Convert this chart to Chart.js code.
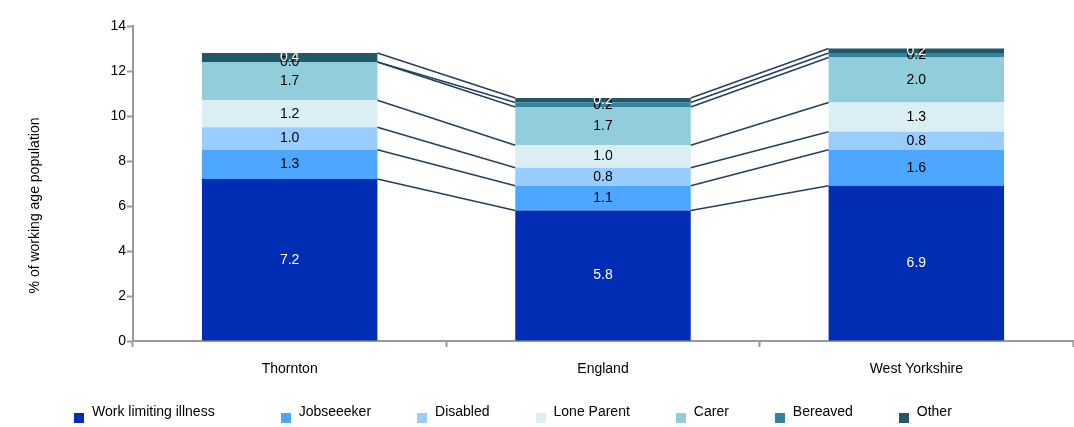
<!DOCTYPE html>
<html lang="en">
<head>
    <meta charset="UTF-8">
    <title>Benefit claimants by type</title>
    <style>
        body {
            margin: 0;
            background-color: #ffffff;
            font-family: "Liberation Sans", Arial, sans-serif;
        }

        .chart-container {
            position: relative;
            width: 1074px;
            height: 427px;
        }

        #legend {
            position: absolute;
            left: 74px;
            top: 403px;
            display: flex;
            gap: 46px;
            font-size: 14px;
            color: #000;
            line-height: 16px;
        }

        #legend .item {
            display: flex;
            align-items: flex-start;
            white-space: nowrap;
        }

        #legend .item:first-child {
            margin-right: 20px;
        }

        #legend .box {
            width: 10px;
            height: 10px;
            margin-top: 10px;
            margin-right: 8px;
        }
    </style>
</head>
<body>

<div class="chart-container">
    <canvas id="benefitChart" width="1074" height="427"></canvas>
    <div id="legend"></div>
</div>

<script src="https://cdn.jsdelivr.net/npm/chart.js"></script>
<script>
    // Areas on the x axis
    const areas = ['Thornton', 'England', 'West Yorkshire'];

    // % of working age population claiming each benefit type
    const workLimitingIllness = [7.2, 5.8, 6.9];
    const jobseeker = [1.3, 1.1, 1.6];
    const disabled = [1.0, 0.8, 0.8];
    const loneParent = [1.2, 1.0, 1.3];
    const carer = [1.7, 1.7, 2.0];
    const bereaved = [0.0, 0.2, 0.2];
    const other = [0.4, 0.2, 0.2];

    const yTicks = [0, 2, 4, 6, 8, 10, 12, 14];
    const yTitle = '% of working age population';

    const series = [
        {label: 'Work limiting illness', data: workLimitingIllness, color: '#002db3', text: '#ffffff'},
        {label: 'Jobseeeker', data: jobseeker, color: '#4da6ff', text: '#000000'},
        {label: 'Disabled', data: disabled, color: '#99ccff', text: '#000000'},
        {label: 'Lone Parent', data: loneParent, color: '#dbeef4', text: '#000000'},
        {label: 'Carer', data: carer, color: '#92cddc', text: '#000000'},
        {label: 'Bereaved', data: bereaved, color: '#31849b', text: '#000000'},
        {label: 'Other', data: other, color: '#215968', text: '#ffffff'}
    ];

    const fontFamily = '"Liberation Sans", Arial, sans-serif';

    // Lines joining the top of each segment from one bar to the next
    const connectorLines = {
        id: 'connectorLines',
        afterDatasetsDraw(chart) {
            const ctx = chart.ctx;
            ctx.save();
            ctx.strokeStyle = '#243f60';
            ctx.lineWidth = 1.5;
            chart.data.datasets.forEach((ds, i) => {
                const bars = chart.getDatasetMeta(i).data;
                for (let j = 0; j < bars.length - 1; j++) {
                    const a = bars[j], b = bars[j + 1];
                    ctx.beginPath();
                    ctx.moveTo(a.x + a.width / 2, a.y);
                    ctx.lineTo(b.x - b.width / 2, b.y);
                    ctx.stroke();
                }
            });
            ctx.restore();
        }
    };

    // Value labels in the middle of each segment
    const segmentLabels = {
        id: 'segmentLabels',
        afterDatasetsDraw(chart) {
            const ctx = chart.ctx;
            ctx.save();
            ctx.font = '14px ' + fontFamily;
            ctx.textAlign = 'center';
            ctx.textBaseline = 'middle';
            chart.data.datasets.forEach((ds, i) => {
                chart.getDatasetMeta(i).data.forEach((bar, j) => {
                    ctx.fillStyle = series[i].text;
                    ctx.fillText(ds.data[j].toFixed(1), bar.x, (bar.y + bar.base) / 2);
                });
            });
            ctx.restore();
        }
    };

    // Rotated y axis title, sitting a little below the middle of the plot
    const axisTitle = {
        id: 'axisTitle',
        afterDraw(chart) {
            const ctx = chart.ctx;
            const y = chart.scales.y;
            ctx.save();
            ctx.translate(35, (y.top + y.bottom) / 2 + 22);
            ctx.rotate(-Math.PI / 2);
            ctx.font = '14px ' + fontFamily;
            ctx.fillStyle = '#000000';
            ctx.textAlign = 'center';
            ctx.textBaseline = 'middle';
            ctx.fillText(yTitle, 0, 0);
            ctx.restore();
        }
    };

    const config = {
        type: 'bar',
        data: {
            labels: areas,
            datasets: series.map(s => ({
                label: s.label,
                data: s.data,
                backgroundColor: s.color,
                borderWidth: 0,
                barPercentage: 0.56,
                categoryPercentage: 1.0
            }))
        },
        options: {
            responsive: false,
            animation: false,
            layout: {
                padding: {top: 26, right: 1, left: 0, bottom: 46}
            },
            plugins: {
                legend: {display: false},
                tooltip: {enabled: false}
            },
            scales: {
                x: {
                    stacked: true,
                    afterFit: function(scale) {
                        scale.height = 40;
                    },
                    border: {color: '#999999', width: 2},
                    grid: {
                        drawOnChartArea: false,
                        tickLength: 6,
                        tickColor: '#999999',
                        tickWidth: 2
                    },
                    ticks: {
                        padding: 14,
                        color: '#000000',
                        font: {family: fontFamily, size: 14}
                    }
                },
                y: {
                    stacked: true,
                    min: 0,
                    max: 14,
                    afterFit: function(scale) {
                        scale.width = 133;
                    },
                    afterBuildTicks: function(scale) {
                        scale.ticks = yTicks.map(v => ({value: v}));
                    },
                    border: {color: '#999999', width: 2},
                    grid: {
                        drawOnChartArea: false,
                        tickLength: 6,
                        tickColor: '#999999',
                        tickWidth: 2
                    },
                    ticks: {
                        padding: 1,
                        color: '#000000',
                        font: {family: fontFamily, size: 14}
                    }
                }
            }
        },
        plugins: [connectorLines, segmentLabels, axisTitle]
    };

    const benefitChart = new Chart(
        document.getElementById('benefitChart'),
        config
    );

    // HTML legend built from the chart's datasets
    const legendEl = document.getElementById('legend');
    benefitChart.data.datasets.forEach(ds => {
        const item = document.createElement('div');
        item.className = 'item';
        const box = document.createElement('span');
        box.className = 'box';
        box.style.background = ds.backgroundColor;
        const text = document.createElement('span');
        text.textContent = ds.label;
        item.appendChild(box);
        item.appendChild(text);
        legendEl.appendChild(item);
    });
</script>

</body>
</html>
